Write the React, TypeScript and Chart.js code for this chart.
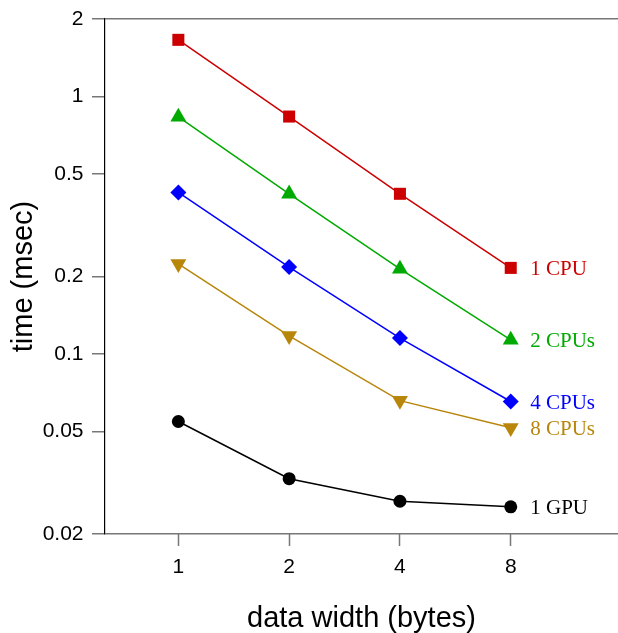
import React, { useEffect, useRef } from "react";
import { Chart, registerables } from "chart.js";

Chart.register(...registerables);

const widths = [1, 2, 4, 8];
const cpu1 = [1.66, 0.836, 0.419, 0.216];
const cpu2 = [0.833, 0.419, 0.214, 0.1135];
const cpu4 = [0.424, 0.2175, 0.1153, 0.0654];
const cpu8 = [0.224, 0.1177, 0.0659, 0.0517];
const gpu1 = [0.0547, 0.0328, 0.0268, 0.0255];
const yTicks = [0.02, 0.05, 0.1, 0.2, 0.5, 1, 2];
const xTicks = [1, 2, 4, 8];
const seriesLabels = ["1 CPU", "2 CPUs", "4 CPUs", "8 CPUs", "1 GPU"];
const seriesColors = ["#cc0000", "#00aa00", "#0000ff", "#b8860b", "#000000"];

const endLabels = {
  id: "endLabels",
  afterDatasetsDraw(chart: any) {
    const ctx = chart.ctx;
    ctx.save();
    ctx.font = '21px "Liberation Serif"';
    ctx.textAlign = "left";
    ctx.textBaseline = "middle";
    chart.data.datasets.forEach((ds: any, i: number) => {
      const meta = chart.getDatasetMeta(i);
      const pt = meta.data[meta.data.length - 1];
      ctx.fillStyle = ds.borderColor;
      ctx.fillText(ds.label, pt.x + 19.5, pt.y + 1.5);
    });
    ctx.restore();
  },
};

export default function App() {
  const ref = useRef<HTMLCanvasElement>(null);
  useEffect(() => {
    document.body.style.margin = "0";
    const series = [cpu1, cpu2, cpu4, cpu8, gpu1];
    const styles = ["rect", "triangle", "rectRot", "triangle", "circle"];
    const radii = [8.5, 9.2, 8, 9.2, 6.5];
    const rots = [0, 0, 0, 180, 0];
    const chart = new Chart(ref.current!, {
      type: "line",
      data: {
        datasets: series.map((s, i) => ({
          label: seriesLabels[i],
          data: s.map((v, j) => ({ x: widths[j], y: v })),
          borderColor: seriesColors[i],
          backgroundColor: seriesColors[i],
          borderWidth: 1.5,
          pointStyle: styles[i] as any,
          pointRadius: radii[i],
          pointRotation: rots[i],
          pointBorderWidth: 0,
          pointBackgroundColor: seriesColors[i],
          fill: false,
          tension: 0,
          clip: false,
        })),
      },
      options: {
        animation: false,
        responsive: false,
        devicePixelRatio: 1,
        layout: { autoPadding: false, padding: { top: 19, right: 0, left: 0, bottom: 0 } },
        plugins: { legend: { display: false }, tooltip: { enabled: false } },
        scales: {
          x: {
            type: "logarithmic",
            bounds: "data",
            min: 0.632,
            max: 15.65,
            afterBuildTicks: (scale: any) => {
              scale.ticks = xTicks.map((v) => ({ value: v }));
            },
            afterFit: (scale: any) => {
              scale.height = 99;
              scale.paddingLeft = 0;
              scale.paddingRight = 0;
            },
            ticks: {
              callback: (v: any) => String(v),
              color: "#000",
              font: { size: 21, family: "Liberation Sans" },
              padding: 9,
              maxRotation: 0,
              autoSkip: false,
            },
            grid: {
              drawOnChartArea: false,
              drawTicks: true,
              tickLength: 12,
              tickColor: "#777",
              tickWidth: 1.5,
            },
            border: { display: false },
            title: {
              display: true,
              text: "data width (bytes)",
              color: "#000",
              font: { size: 29, family: "Liberation Sans", lineHeight: 1 },
              padding: { top: 0, bottom: 0 },
            },
          },
          y: {
            type: "logarithmic",
            bounds: "data",
            min: 0.02,
            max: 2,
            afterBuildTicks: (scale: any) => {
              scale.ticks = yTicks.map((v) => ({ value: v }));
            },
            afterFit: (scale: any) => {
              scale.width = 105;
              scale.paddingTop = 0;
              scale.paddingBottom = 0;
            },
            ticks: {
              callback: (v: any) => String(v),
              color: "#000",
              font: { size: 21, family: "Liberation Sans" },
              padding: 8.5,
              autoSkip: false,
            },
            grid: {
              color: (c: any) =>
                c.tick && (c.tick.value === 2 || c.tick.value === 0.02) ? "#777" : "rgba(0,0,0,0)",
              lineWidth: 1.5,
              drawTicks: true,
              tickLength: 13,
              tickColor: "#777",
              tickWidth: 1.5,
            },
            border: { display: true, color: "#000", width: 1.2 },
            title: {
              display: true,
              text: "time (msec)",
              color: "#000",
              font: { size: 29, family: "Liberation Sans", lineHeight: 1 },
              padding: { top: 9, bottom: 0 },
            },
          },
        },
      },
      plugins: [endLabels],
    });
    return () => chart.destroy();
  }, []);
  return (
    <div style={{ width: 618, height: 633 }}>
      <canvas ref={ref} width={618} height={633} style={{ display: "block" }} />
    </div>
  );
}
